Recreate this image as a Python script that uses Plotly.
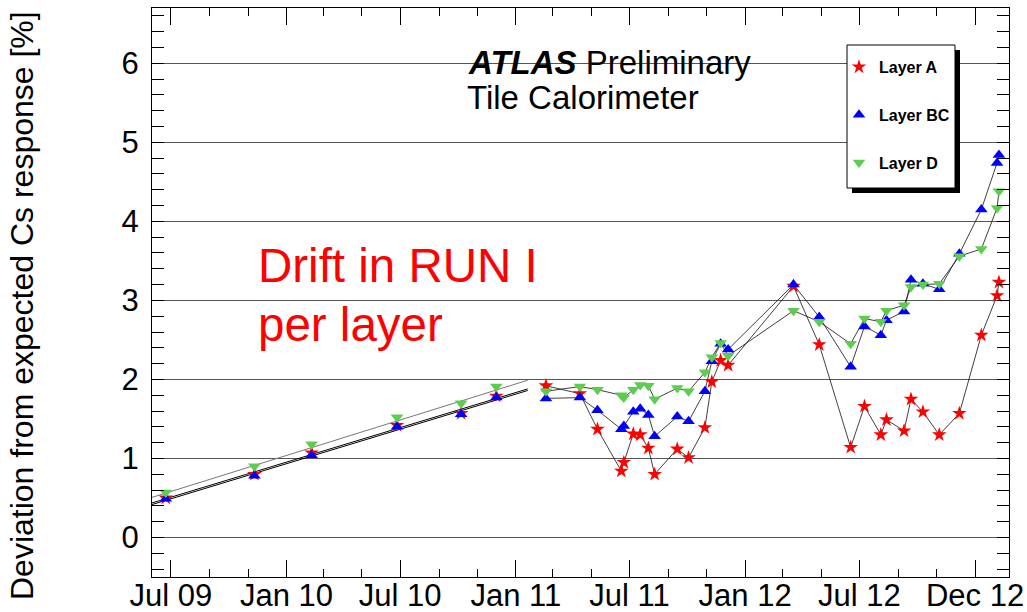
import plotly.graph_objects as go

# ---- Early measurements (2009-2010), points only, with linear fits ----
early_dates = ["2009-06-23", "2009-11-11", "2010-02-10", "2010-06-26", "2010-10-06", "2010-12-01"]
early_A = [0.50, 0.80, 1.07, 1.42, 1.57, 1.79]
early_BC = [0.49, 0.78, 1.04, 1.40, 1.56, 1.77]
early_D = [0.57, 0.90, 1.18, 1.52, 1.70, 1.91]

# linear fit lines over the early period (start / end values)
fit_dates = ["2009-05-25", "2011-01-20"]
fit_A = [0.42, 1.88]
fit_BC = [0.40, 1.86]
fit_D = [0.49, 1.99]

# ---- RUN I measurements (2011-2013), connected points ----
run_dates = [
    "2011-02-18", "2011-04-13", "2011-05-11", "2011-06-18", "2011-06-22",
    "2011-07-07", "2011-07-18", "2011-07-31", "2011-08-10", "2011-09-15",
    "2011-10-03", "2011-10-29", "2011-11-09", "2011-11-23", "2011-12-05",
    "2012-03-18", "2012-04-28", "2012-06-17", "2012-07-09", "2012-08-04",
    "2012-08-13", "2012-09-10", "2012-09-21", "2012-10-10", "2012-11-05",
    "2012-12-07", "2013-01-11", "2013-02-05", "2013-02-08",
]
run_A = [1.92, 1.82, 1.37, 0.84, 0.95, 1.31, 1.30, 1.13, 0.80, 1.12,
         1.01, 1.39, 1.97, 2.24, 2.18, 3.18, 2.44, 1.14, 1.66, 1.30,
         1.49, 1.35, 1.75, 1.59, 1.30, 1.57, 2.56, 3.06, 3.23]
run_BC = [1.76, 1.77, 1.61, 1.37, 1.41, 1.59, 1.63, 1.55, 1.28, 1.53,
          1.47, 1.85, 2.23, 2.45, 2.38, 3.20, 2.79, 2.16, 2.67, 2.56,
          2.75, 2.86, 3.26, 3.21, 3.14, 3.59, 4.15, 4.74, 4.84]
run_D = [1.85, 1.91, 1.87, 1.80, 1.77, 1.87, 1.93, 1.92, 1.75, 1.89,
         1.85, 2.09, 2.28, 2.46, 2.30, 2.87, 2.73, 2.45, 2.77, 2.73,
         2.87, 2.94, 3.17, 3.20, 3.21, 3.56, 3.65, 4.17, 4.38]

# ---- axis ticks ----
tick_dates = ["2009-07-01", "2010-01-01", "2010-07-01", "2011-01-01",
              "2011-07-01", "2012-01-01", "2012-07-01", "2013-01-01"]
tick_labels = ["Jul 09", "Jan 10", "Jul 10", "Jan 11", "Jul 11", "Jan 12", "Jul 12", "Dec 12"]
y_ticks = [0, 1, 2, 3, 4, 5, 6]

layers = [
    ("Layer A", early_A, run_A, fit_A, "#ff0000", "star", 11, "#000000"),
    ("Layer BC", early_BC, run_BC, fit_BC, "#0000ff", "triangle-up", 11, "#000000"),
    ("Layer D", early_D, run_D, fit_D, "#5ccd4e", "triangle-down", 11, "#777777"),
]

FONT = "Liberation Sans, Arial, Helvetica, sans-serif"
LINE = "rgba(30,30,30,0.85)"

fig = go.Figure()

# fit lines
for name, e, r, f, col, sym, sz, fcol in layers:
    fig.add_trace(go.Scatter(x=fit_dates, y=f, mode="lines",
                             line=dict(color=fcol, width=1),
                             showlegend=False, hoverinfo="skip"))

# connecting lines of RUN I points
for name, e, r, f, col, sym, sz, fcol in layers:
    fig.add_trace(go.Scatter(x=run_dates, y=r, mode="lines",
                             line=dict(color=LINE, width=1),
                             showlegend=False, hoverinfo="skip"))

# markers
for name, e, r, f, col, sym, sz, fcol in layers:
    fig.add_trace(go.Scatter(x=early_dates, y=e, mode="markers", name="<b>%s</b>" % name,
                             legendgroup=name,
                             marker=dict(symbol=sym, size=sz, color=col, line=dict(width=0))))
    fig.add_trace(go.Scatter(x=run_dates, y=r, mode="markers", name=name,
                             legendgroup=name, showlegend=False,
                             marker=dict(symbol=sym, size=sz, color=col, line=dict(width=0))))

# plot-area geometry in pixels (for placing text in paper coordinates)
L, R, T, B = 152, 1009, 8, 577


def px(x):
    return (x - L) / (R - L)


def py(y):
    return (B - y) / (B - T)


def note(text, x, y, size, color="black", angle=0, anchor="left"):
    return dict(text=text, xref="paper", yref="paper", x=px(x), y=py(y),
                xanchor=anchor, yanchor="middle", textangle=angle, showarrow=False,
                font=dict(family=FONT, size=size, color=color))


annotations = [
    note("<b><i>ATLAS</i></b> Preliminary", 466, 63, 33),
    note("Tile Calorimeter", 465, 98, 33),
    note("Drift in RUN I", 256, 266, 47.5, "#ff0000"),
    note("per layer", 256, 324, 47.5, "#ff0000"),
    note("Deviation from expected Cs response [%]", 22, 306, 32, angle=-90, anchor="center"),
]

# legend frame with drop shadow
LX0, LX1, LY0, LY1 = 847, 955, 45, 188
shapes = [
    dict(type="rect", xref="paper", yref="paper", x0=px(LX0 + 5), x1=px(LX1 + 5),
         y0=py(LY1 + 5), y1=py(LY0 + 5), fillcolor="black", line=dict(width=0), layer="above"),
    dict(type="rect", xref="paper", yref="paper", x0=px(LX0), x1=px(LX1),
         y0=py(LY1), y1=py(LY0), fillcolor="white", line=dict(color="black", width=1),
         layer="above"),
]

fig.update_layout(
    width=1027, height=612,
    margin=dict(l=L, r=1027 - R, t=T, b=612 - B, autoexpand=False),
    paper_bgcolor="white", plot_bgcolor="white",
    font=dict(family=FONT, color="black"),
    annotations=annotations,
    shapes=shapes,
    legend=dict(x=px(839), y=py(50), xanchor="left", yanchor="top",
                bgcolor="rgba(0,0,0,0)", borderwidth=0,
                font=dict(family=FONT, size=16, color="black"),
                traceorder="grouped", tracegroupgap=24, itemwidth=30),
    xaxis=dict(type="date", range=["2009-06-01", "2013-02-24"], automargin=False,
               tickvals=tick_dates, ticktext=tick_labels,
               ticks="inside", ticklen=17, tickwidth=1, tickcolor="black",
               ticklabelstandoff=-9,
               minor=dict(dtick="M2", tick0="2009-07-01", ticks="inside", ticklen=8,
                          tickcolor="black", showgrid=False),
               showgrid=False, zeroline=False,
               showline=True, linecolor="black", linewidth=1, mirror="ticks",
               tickfont=dict(family=FONT, size=31, color="black")),
    yaxis=dict(range=[-0.5, 6.7], tickvals=y_ticks, automargin=False,
               ticks="inside", ticklen=12, tickwidth=1, tickcolor="black",
               ticklabelstandoff=6,
               minor=dict(dtick=0.2, tick0=0, ticks="inside", ticklen=12,
                          tickcolor="black", showgrid=False),
               showgrid=True, gridcolor="#555555", gridwidth=1,
               zeroline=True, zerolinecolor="#555555", zerolinewidth=1,
               showline=True, linecolor="black", linewidth=1, mirror="ticks",
               tickfont=dict(family=FONT, size=31, color="black")),
)

fig.write_html("out.html")
